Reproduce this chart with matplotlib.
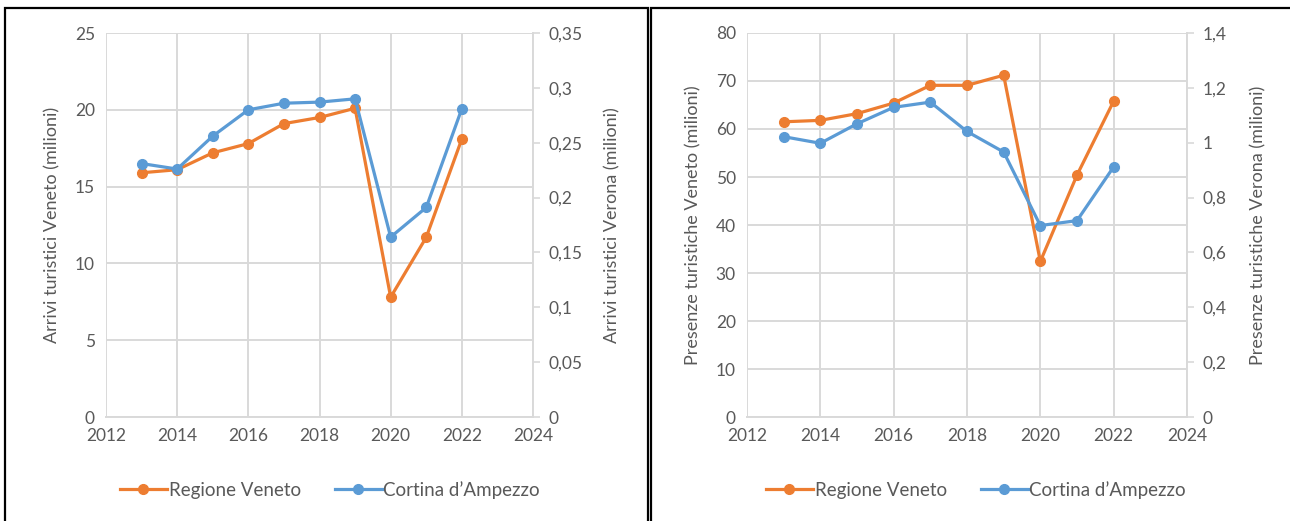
import matplotlib.pyplot as plt
from matplotlib.patches import Rectangle
from matplotlib.ticker import FuncFormatter, MultipleLocator

plt.rcParams["font.family"] = ["Lato", "DejaVu Sans"]

years = [2013, 2014, 2015, 2016, 2017, 2018, 2019, 2020, 2021, 2022]

# Arrivals (left panel)
arrivi_veneto = [15.9, 16.1, 17.2, 17.8, 19.1, 19.5, 20.1, 7.8, 11.7, 18.1]
arrivi_cortina = [0.231, 0.226, 0.256, 0.280, 0.286, 0.287, 0.290, 0.164, 0.191, 0.281]

# Presences (right panel)
presenze_veneto = [61.5, 61.8, 63.2, 65.4, 69.1, 69.1, 71.2, 32.4, 50.4, 65.8]
presenze_cortina = [1.022, 0.998, 1.069, 1.129, 1.148, 1.041, 0.966, 0.698, 0.716, 0.912]

ORANGE = "#ED7D31"
BLUE = "#5B9BD5"
TEXT = "#595959"
GRID = "#D9D9D9"

W, H = 1290, 521
fig = plt.figure(figsize=(W / 100, H / 100), dpi=100)


def comma(v, pos):
    return f"{v:g}".replace(".", ",")


def panel(x0, x1, left_data, right_data, ymax_l, ystep_l, ymax_r, ystep_r,
          lab_l, lab_r, legend_x, pad_r):
    y_top, y_bot = 33, 417
    ax = fig.add_axes([x0 / W, 1 - y_bot / H, (x1 - x0) / W, (y_bot - y_top) / H])
    ax2 = ax.twinx()

    ax.set_xlim(2012, 2024)
    ax.set_ylim(0, ymax_l)
    ax2.set_ylim(0, ymax_r)
    ax.xaxis.set_major_locator(MultipleLocator(2))
    ax.yaxis.set_major_locator(MultipleLocator(ystep_l))
    ax2.yaxis.set_major_locator(MultipleLocator(ystep_r))
    ax2.yaxis.set_major_formatter(FuncFormatter(comma))

    ax.grid(True, color=GRID, linewidth=1.4)
    ax.set_axisbelow(True)
    for sp in ["top", "left", "right"]:
        ax.spines[sp].set_visible(False)
        ax2.spines[sp].set_visible(False)
    ax.spines["bottom"].set_color(GRID)
    ax.spines["bottom"].set_linewidth(1.4)
    ax2.spines["bottom"].set_visible(False)
    ax2.spines["right"].set_visible(True)
    ax2.spines["right"].set_color(GRID)
    ax2.spines["right"].set_linewidth(1.4)

    ax.tick_params(axis="both", length=0, labelsize=12.5, labelcolor=TEXT, pad=8)
    ax2.tick_params(axis="y", length=5, width=1.2, color=GRID, labelsize=12.5,
                    labelcolor=TEXT, pad=6)

    ax.set_ylabel(lab_l, fontsize=13, color=TEXT, labelpad=10)
    ax2.set_ylabel(lab_r, fontsize=13, color=TEXT, labelpad=pad_r)

    l1, = ax.plot(years, left_data, color=ORANGE, lw=2.3, marker="o", ms=7,
                  label="Regione Veneto", zorder=3)
    l2, = ax2.plot(years, right_data, color=BLUE, lw=2.3, marker="o", ms=7,
                   label="Cortina d\u2019Ampezzo", zorder=3)

    fig.legend(handles=[l1, l2], loc="center", bbox_to_anchor=(legend_x / W, 1 - 490 / H),
               ncol=2, frameon=False, fontsize=13.5, labelcolor=TEXT,
               handlelength=2.5, columnspacing=1.8, handletextpad=0.1)


panel(106, 533, arrivi_veneto, arrivi_cortina, 25, 5, 0.35, 0.05,
      "Arrivi turistici Veneto (milioni)", "Arrivi turistici Verona (milioni)", 330, 16)
panel(747, 1187, presenze_veneto, presenze_cortina, 80, 10, 1.4, 0.2,
      "Presenze turistiche Veneto (milioni)", "Presenze turistiche Verona (milioni)", 976, 17)

# panel frames
fig.add_artist(Rectangle((5 / W, -0.01), (648 - 5) / W, 1 - 8 / H + 0.01,
                         transform=fig.transFigure, fill=False, edgecolor="black", lw=1.6))
fig.add_artist(Rectangle((651 / W, -0.01), (1295 - 651) / W, 1 - 8 / H + 0.01,
                         transform=fig.transFigure, fill=False, edgecolor="black", lw=1.6))

fig.savefig("out.png", dpi=100)
